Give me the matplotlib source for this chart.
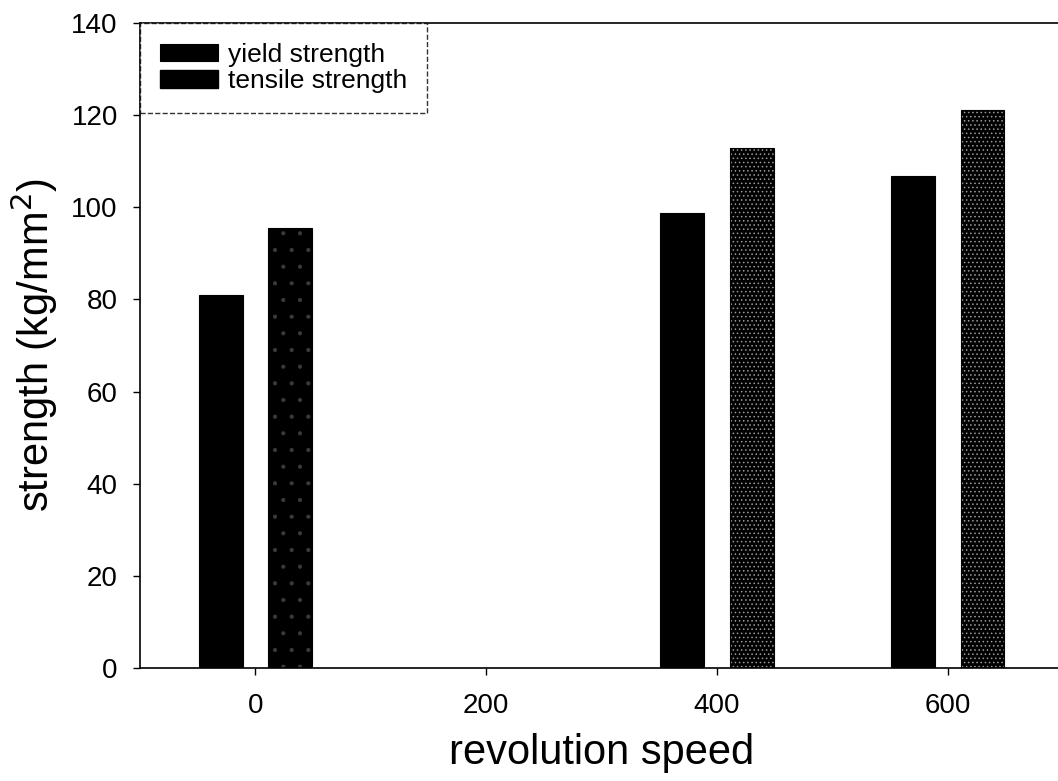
import matplotlib
matplotlib.use("Agg")
import matplotlib.pyplot as plt
import numpy as np

plt.rcParams["font.family"] = ["Liberation Sans", "DejaVu Sans"]

# data
speeds = [0, 400, 600]
yield_strength = [81, 98.8, 106.7]
tensile_strength = [95.5, 112.8, 121.2]
xticks = [0, 200, 400, 600]
yticks = [0, 20, 40, 60, 80, 100, 120, 140]

fig = plt.figure(figsize=(10.58, 7.81), dpi=100)
ax = fig.add_axes([0.1323, 0.1447, 0.8727, 0.8259])

x = np.array(speeds)
bar_w = 38
offset = 30

ax.bar(x - offset, yield_strength, width=bar_w, color="black",
       edgecolor="black", linewidth=0.8, label="yield strength", zorder=2)

# tensile bars: dark speckled fill (first one is almost solid black)
plt.rcParams["hatch.linewidth"] = 0.6
hatches = [".", "....", "...."]
hatch_cols = ["#3a3a3a", "#9a9a9a", "#9a9a9a"]
for xi, val, h, hc in zip(x + offset, tensile_strength, hatches, hatch_cols):
    ax.bar(xi, val, width=bar_w, color="black", edgecolor=hc,
           linewidth=0, hatch=h, zorder=2)
ax.bar(x + offset, tensile_strength, width=bar_w, fill=False,
       edgecolor="black", linewidth=0.8, zorder=3)
# legend proxy for tensile
ax.bar([np.nan], [np.nan], width=bar_w, color="black", edgecolor="black",
       label="tensile strength")

ax.set_xlim(-100, 700)
ax.set_ylim(0, 140)
ax.set_xticks(xticks)
ax.set_yticks(yticks)
ax.tick_params(direction="out", length=5, width=1, labelsize=20)
ax.tick_params(axis="x", pad=13)
ax.tick_params(axis="y", pad=11)
for s in ax.spines.values():
    s.set_linewidth(1.2)

ax.set_xlabel("revolution speed", fontsize=30, labelpad=10)
ax.set_ylabel("strength (kg/mm$^2$)", fontsize=30, labelpad=8)

leg = ax.legend(loc="upper left", fontsize=19, frameon=True, fancybox=False,
                borderaxespad=0, handlelength=2.2, handleheight=0.65,
                handletextpad=0.4, labelspacing=0.1, borderpad=0.75)
frame = leg.get_frame()
frame.set_edgecolor("black")
frame.set_linestyle("--")
frame.set_linewidth(1.0)

fig.savefig("out.png", dpi=100)
